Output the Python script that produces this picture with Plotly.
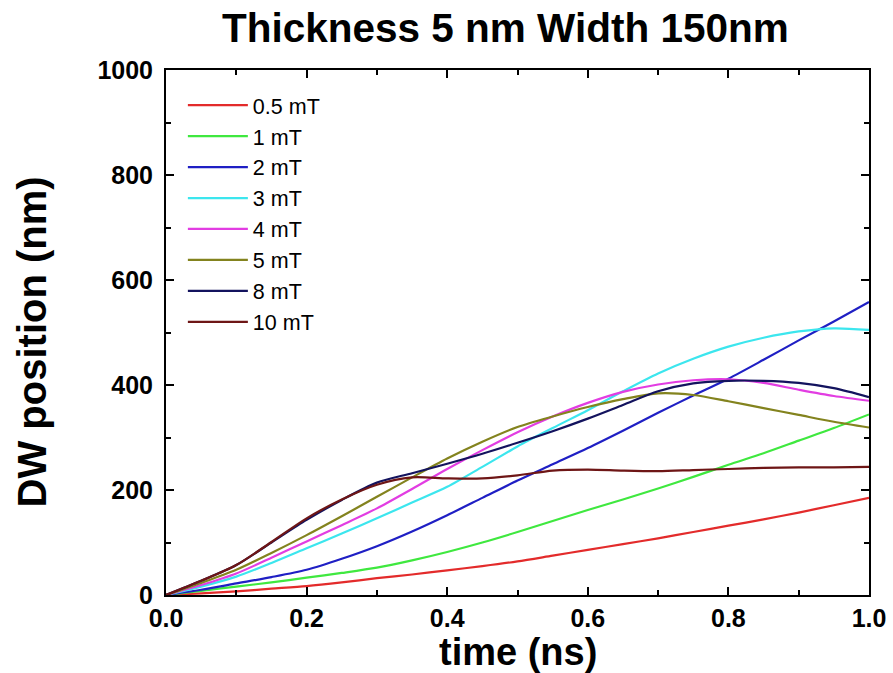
import plotly.graph_objects as go

time_ns = [0.00, 0.05, 0.10, 0.15, 0.20, 0.25, 0.30, 0.35, 0.40, 0.45, 0.50,
           0.55, 0.60, 0.65, 0.70, 0.75, 0.80, 0.85, 0.90, 0.95, 1.00]

pos_05mT = [0, 3, 7, 12, 17, 24, 32, 39, 47, 55, 64, 75, 86, 97, 108, 120, 132, 144, 157, 171, 185]
pos_1mT = [0, 8, 16, 24, 33, 42, 52, 66, 82, 100, 120, 141, 162, 182, 203, 225, 248, 270, 294, 318, 344]
pos_2mT = [0, 10, 22, 34, 48, 69, 93, 121, 152, 185, 218, 249, 280, 313, 347, 380, 412, 448, 485, 521, 558]
pos_3mT = [0, 16, 35, 61, 89, 117, 146, 176, 206, 244, 283, 318, 352, 388, 422, 450, 473, 490, 502, 508, 505]
pos_4mT = [0, 19, 41, 71, 102, 133, 165, 202, 240, 276, 310, 340, 366, 387, 401, 409, 411, 404, 391, 379, 370]
pos_5mT = [0, 23, 48, 80, 114, 150, 187, 224, 260, 292, 320, 340, 358, 373, 384, 381, 369, 356, 343, 330, 319]
pos_8mT = [0, 27, 57, 100, 143, 181, 214, 232, 250, 269, 290, 312, 336, 362, 388, 403, 408, 408, 404, 394, 377]
pos_10mT = [0, 27, 57, 101, 146, 182, 210, 224, 222, 222, 228, 237, 239, 237, 236, 238, 240, 242, 243, 243, 244]

series_names = ["0.5 mT", "1 mT", "2 mT", "3 mT", "4 mT", "5 mT", "8 mT", "10 mT"]
series_values = [pos_05mT, pos_1mT, pos_2mT, pos_3mT, pos_4mT, pos_5mT, pos_8mT, pos_10mT]
series_colors = ["#e32b2b", "#3fe83f", "#1f1fc4", "#3ce6ee", "#e23de2", "#83831e", "#13135e", "#6e1616"]

x_ticks = [0.0, 0.2, 0.4, 0.6, 0.8, 1.0]
y_ticks = [0, 200, 400, 600, 800, 1000]

FONT = "Liberation Sans, Arial, sans-serif"

fig = go.Figure()
for name, vals, col in zip(series_names, series_values, series_colors):
    fig.add_trace(go.Scatter(x=time_ns, y=vals, name=name, mode="lines",
                             line=dict(color=col, width=2.2, shape="spline", smoothing=0.8)))

axis_common = dict(
    showline=True, linecolor="black", linewidth=2, mirror="allticks",
    ticks="inside", ticklen=8, tickwidth=1.5, tickcolor="black",
    showgrid=False, zeroline=False, automargin=False,
    tickfont=dict(family=FONT, size=25, color="black", weight="bold"),
)

fig.update_xaxes(range=[0, 1], tickvals=x_ticks, tickformat=".1f",
                 minor=dict(ticks="inside", ticklen=5, tickwidth=1.5, tickcolor="black",
                            tickvals=[0.1, 0.3, 0.5, 0.7, 0.9]),
                 ticklabelstandoff=0, **axis_common)
fig.update_yaxes(range=[0, 1000], tickvals=y_ticks,
                 minor=dict(ticks="inside", ticklen=5, tickwidth=1.5, tickcolor="black",
                            tickvals=[100, 300, 500, 700, 900]),
                 ticklabelstandoff=6, **axis_common)

fig.update_layout(
    template="none",
    width=893, height=673,
    margin=dict(l=166, r=24, t=70, b=78, pad=0),
    paper_bgcolor="white", plot_bgcolor="white",
    showlegend=True,
    legend=dict(x=0.024, y=0.972, xanchor="left", yanchor="top",
                bgcolor="rgba(0,0,0,0)", borderwidth=0,
                font=dict(family=FONT, size=21.5, color="black"),
                itemwidth=60, tracegroupgap=0),
    annotations=[
        dict(text="<b>Thickness 5 nm Width 150nm</b>", xref="paper", yref="paper",
             x=0.483, y=1.08, xanchor="center", yanchor="middle", showarrow=False,
             font=dict(family=FONT, size=40.5, color="black")),
        dict(text="<b>time (ns)</b>", xref="paper", yref="paper",
             x=0.5, y=-0.109, xanchor="center", yanchor="middle", showarrow=False,
             font=dict(family=FONT, size=38, color="black")),
        dict(text="<b>DW position (nm)</b>", xref="paper", yref="paper",
             x=-0.19, y=0.482, xanchor="center", yanchor="middle", showarrow=False,
             textangle=-90, font=dict(family=FONT, size=40, color="black")),
    ],
)

fig.write_html("out.html")
